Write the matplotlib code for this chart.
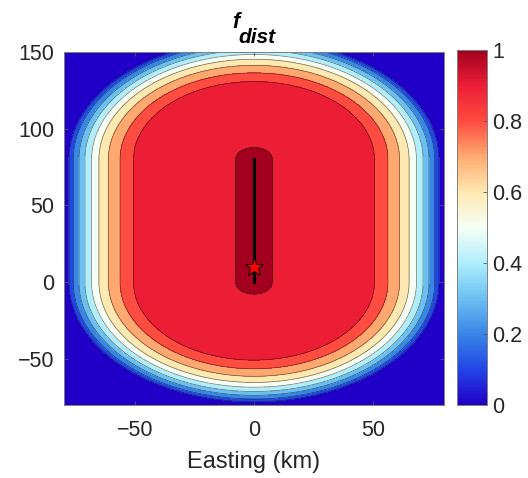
import numpy as np
import matplotlib
matplotlib.use("Agg")
import matplotlib.pyplot as plt
from matplotlib.colors import LinearSegmentedColormap, Normalize
from matplotlib.cm import ScalarMappable

plt.rcParams['font.family'] = ['Liberation Sans', 'DejaVu Sans']

# fault trace and epicentre (km)
fault_x = [0, 0]
fault_y = [0, 80]
epi_x = 0
epi_y = 10

# taper profile: distance from the fault (km) -> f_dist
prof_dist = [0, 7.7, 50.8, 56.4, 61.3, 65.3, 68.4, 71.2, 73.7, 76.1, 77.9, 80, 200]
prof_f = [1.0, 1.0, 0.9, 0.8, 0.7, 0.6, 0.5, 0.4, 0.3, 0.2, 0.1, 0.0, 0.0]

# contour levels and colour scale
levels = [0, 0.1, 0.2, 0.3, 0.4, 0.5, 0.6, 0.7, 0.8, 0.9, 1.0]
cmap_colors = ['#2000c6', '#2346e6', '#3a86e6', '#6cc0f2', '#b0eefc', '#f6fff6',
               '#ffe9b2', '#ffab72', '#ff4c40', '#ec1f36', '#a3001f']

x_ticks = [-50, 0, 50]
y_ticks = [-50, 0, 50, 100, 150]
cb_ticks = [0, 0.2, 0.4, 0.6, 0.8, 1]
cb_labels = ['0', '0.2', '0.4', '0.6', '0.8', '1']

txt = '#262626'
cmap = LinearSegmentedColormap.from_list('bwr_fd', list(zip(levels, cmap_colors)))

# grid and distance to the fault segment
x = np.linspace(-80, 80, 641)
y = np.linspace(-80, 150, 921)
X, Y = np.meshgrid(x, y)
x0, x1 = fault_x
y0, y1 = fault_y
seg = np.array([x1 - x0, y1 - y0], dtype=float)
t = ((X - x0) * seg[0] + (Y - y0) * seg[1]) / (seg @ seg)
t = np.clip(t, 0, 1)
D = np.hypot(X - (x0 + t * seg[0]), Y - (y0 + t * seg[1]))
F = np.interp(D, prof_dist, prof_f)

fig = plt.figure(figsize=(5.28, 4.78), dpi=100)
ax = fig.add_axes([0.1212, 0.1527, 0.7197, 0.7385])

# each band coloured by its lower level, f = 1 gets its own band
fill_levels = levels[:-1] + [0.9999, 1.01]
fill_colors = [cmap(v) for v in levels]
ax.contourf(X, Y, F, levels=fill_levels, colors=fill_colors)
ax.contour(X, Y, F, levels=levels[1:-1] + [0.9999], colors='k',
           linewidths=0.5, alpha=0.55)

ax.plot(fault_x, fault_y, color='k', lw=2.2, zorder=5)
ax.plot(epi_x, epi_y, marker='*', ms=14, mfc='red', mec='k', mew=0.7, zorder=6)

ax.set_xlim(-80, 80)
ax.set_ylim(-80, 150)
ax.set_xticks(x_ticks)
ax.set_yticks(y_ticks)
ax.tick_params(direction='in', length=3, width=0.6, color='0.35',
               labelsize=15.5, labelcolor=txt, top=True, right=True)
ax.tick_params(axis='x', pad=11)
ax.tick_params(axis='y', pad=7)
for s in ax.spines.values():
    s.set_color('0.5')
    s.set_linewidth(0.7)
ax.set_xlabel('Easting (km)', fontsize=17, color=txt, labelpad=7)

# title f_dist
fig.text(232 / 528, 1 - 28 / 478, 'f', fontsize=15.5, fontweight='bold',
         fontstyle='italic', color='k', va='baseline', ha='left')
fig.text(238 / 528, 1 - 43 / 478, 'dist', fontsize=15, fontweight='bold',
         fontstyle='italic', color='k', va='baseline', ha='left')

# colour bar
cax = fig.add_axes([0.8655, 0.1527, 0.0568, 0.7427])
sm = ScalarMappable(norm=Normalize(0, 1), cmap=cmap)
cb = fig.colorbar(sm, cax=cax, ticks=cb_ticks)
cb.ax.set_yticklabels(cb_labels)
cb.ax.tick_params(direction='in', length=3, width=0.6, color='0.35',
                  labelsize=15.5, labelcolor=txt, pad=4)
cb.outline.set_edgecolor('0.5')
cb.outline.set_linewidth(0.7)

fig.savefig('out.png', dpi=100)
